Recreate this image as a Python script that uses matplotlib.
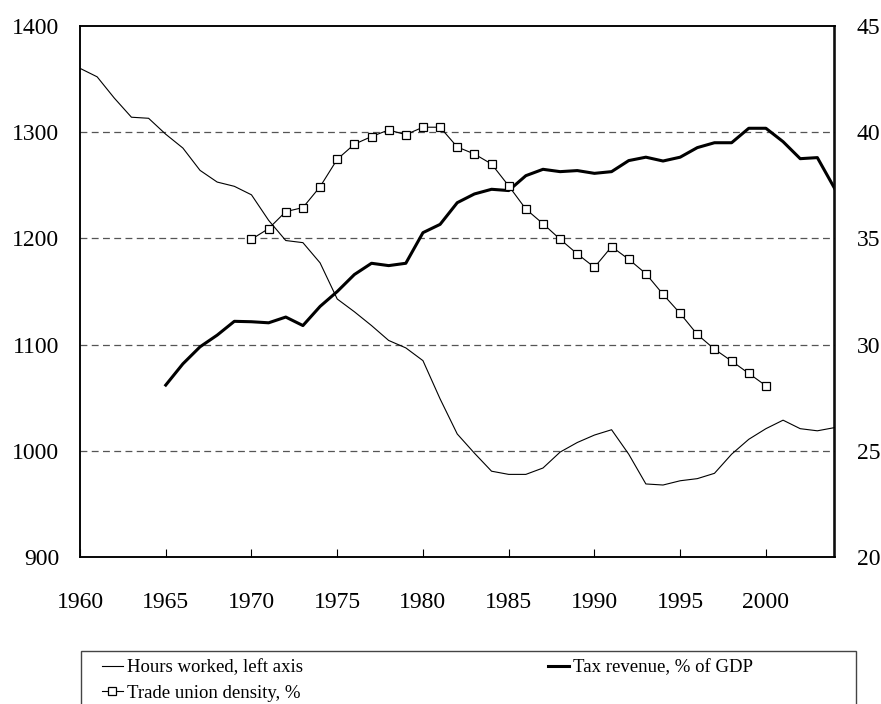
import matplotlib
matplotlib.use("Agg")
import matplotlib.pyplot as plt
from matplotlib.patches import Rectangle

plt.rcParams['font.family'] = ['Liberation Serif', 'DejaVu Serif']

# datos
anios = list(range(1960, 2005))
horas = [1360, 1352, 1332, 1314, 1313, 1298, 1285, 1264, 1253, 1249,
         1241, 1217, 1198, 1196, 1177, 1143, 1131, 1118, 1104, 1097,
         1085, 1049, 1016, 998, 981, 978, 978, 984, 999, 1008,
         1015, 1020, 997, 969, 968, 972, 974, 979, 997, 1011,
         1021, 1029, 1021, 1019, 1022]

anios_imp = list(range(1965, 2005))
impuestos = [28.1, 29.1, 29.9, 30.45, 31.1, 31.08, 31.03, 31.3, 30.9, 31.8,
             32.5, 33.3, 33.83, 33.72, 33.83, 35.27, 35.66, 36.68, 37.09, 37.31,
             37.25, 37.95, 38.25, 38.14, 38.19, 38.06, 38.14, 38.66, 38.82, 38.64,
             38.82, 39.27, 39.5, 39.5, 40.18, 40.18, 39.55, 38.75, 38.8, 37.36]

anios_sind = list(range(1970, 2001))
sindicatos = [34.96, 35.46, 36.26, 36.45, 37.43, 38.72, 39.43, 39.79, 40.1, 39.88,
              40.23, 40.23, 39.3, 38.97, 38.5, 37.47, 36.38, 35.69, 34.96, 34.27,
              33.64, 34.61, 34.02, 33.34, 32.37, 31.47, 30.48, 29.79, 29.23, 28.65,
              28.07]

etiquetas = ["Hours worked, left axis", "Trade union density, %", "Tax revenue, % of GDP"]

fig = plt.figure(figsize=(8.81, 7.04), dpi=100)
ax = fig.add_axes([80/881, 1-557.3/704, 754.5/881, 531.5/704])
ax2 = ax.twinx()

# lineas de referencia
for v in [1000, 1100, 1200, 1300]:
    ax.axhline(v, color="#555555", linestyle=(0, (5.5, 3.5)), linewidth=0.9, zorder=0)

l1, = ax.plot(anios, horas, color="black", linewidth=0.8)
l2, = ax2.plot(anios_imp, impuestos, color="black", linewidth=2.2)
l3, = ax2.plot(anios_sind, sindicatos, color="black", linewidth=0.8,
               marker="s", markersize=5.5, markerfacecolor="white",
               markeredgecolor="black", markeredgewidth=0.9)

ax.set_xlim(1960, 2004)
ax.set_ylim(900, 1400)
ax2.set_ylim(20, 45)
ax.set_yticks(range(900, 1401, 100))
ax2.set_yticks(range(20, 46, 5))
ax.set_xticks(range(1960, 2001, 5))

ax.tick_params(axis="x", direction="in", length=6, width=0.8, pad=25, labelsize=17)
ax.tick_params(axis="y", length=0, pad=15, labelsize=17)
ax2.tick_params(axis="y", length=0, pad=16, labelsize=17)

for a in (ax, ax2):
    for s in a.spines.values():
        s.set_linewidth(1.1)

# leyenda con recuadro
fig.add_artist(Rectangle((81/881, -0.02), 775/881, 0.02 + 1 - 651/704,
                         transform=fig.transFigure, fill=False,
                         edgecolor="#444444", linewidth=1.0))

opciones = dict(loc="upper left", frameon=False, fontsize=13.5,
                handlelength=1.1, handletextpad=0.25, labelspacing=0.45,
                borderpad=0, borderaxespad=0)
fig.legend([l1, l3], etiquetas[:2], bbox_to_anchor=(102/881, 1 - 659/704), **opciones)
fig.legend([l2], etiquetas[2:], bbox_to_anchor=(548/881, 1 - 659/704), **opciones)

fig.savefig("out.png", dpi=100)
